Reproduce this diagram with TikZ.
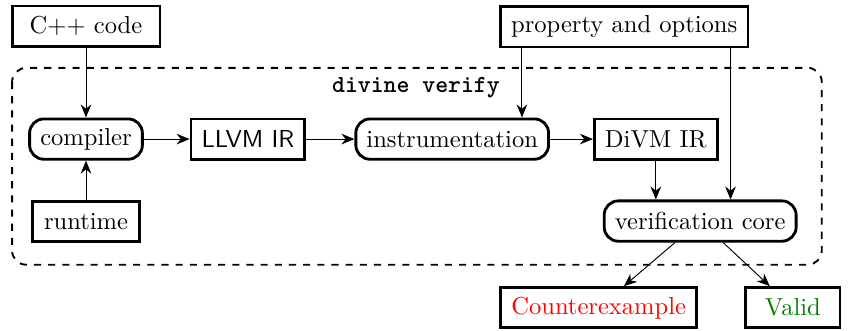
\documentclass[tikz,border=0pt]{standalone}
\usepackage{fontspec}
\usepackage{tikz}
\usetikzlibrary{positioning}
\usetikzlibrary{arrows.meta}
\tikzset{
    boxs/.style = {rectangle, very thick, draw=black, align=center, fill=white, minimum height=0.6cm, inner xsep=4.5pt, text=black},
    boxr/.style = {rectangle, rounded corners=6pt, very thick, draw=black, align=center, fill=white, minimum height=0.6cm, inner xsep=4.5pt, text=black},
    edgea/.style = {-{Stealth[length=5.5pt,width=4.5pt]}, thin, black},
    frame/.style = {thick, dashed, rounded corners=6pt, black},
    every picture/.style={font issue=\fontsize{10.4}{12.5}},
    font issue/.style={execute at begin picture={#1\selectfont}}
}

\begin{document}
\begin{tikzpicture}[scale=1.00,transform shape]
\draw[frame] (0.18,-1.01) rectangle (12.23,-3.94);
\node[font=\ttfamily\bfseries] at (6.19, -1.31) (lbl) {divine verify};
%
\node[boxs, minimum width=2.2cm] at (1.28, -0.39) (cpp) {C++ code};
\node[boxs] at (9.29, -0.40) (prop) {property and options};
\node[boxr] at (1.28, -2.07) (comp) {compiler};
\node[boxs, font=\sffamily] at (3.69, -2.07) (llvm) {LLVM IR};
\node[boxr] at (6.73, -2.07) (instr) {instrumentation};
\node[boxs] at (9.76, -2.07) (divm) {DiVM IR};
\node[boxs, minimum width=1.6cm] at (1.28, -3.30) (rt) {runtime};
\node[boxr] at (10.42, -3.29) (vc) {verification core};
\node[boxs, text=red] at (8.91, -4.58) (cex) {Counterexample};
\node[boxs, minimum width=1.4cm, text=green!50!black] at (11.80, -4.58) (valid) {Valid};
%
\draw[edgea] (cpp) -- (comp);
\draw[edgea] (rt) -- (comp);
\draw[edgea] (comp) -- (llvm);
\draw[edgea] (llvm) -- (instr);
\draw[edgea] (instr) -- (divm);
\draw[edgea] (divm) -- (divm |- vc.north);
\draw[edgea] ([xshift=0.34cm]prop.south west) -- ([xshift=0.34cm]prop.south west |- instr.north);
\draw[edgea] ([xshift=-0.28cm]prop.south east) -- ([xshift=-0.28cm]prop.south east |- vc.north);
\draw[edgea] (vc) -- (cex);
\draw[edgea] (vc) -- (valid);

\path[use as bounding box] (0,0) rectangle (12.68,-4.926);
\end{tikzpicture}
\end{document}
